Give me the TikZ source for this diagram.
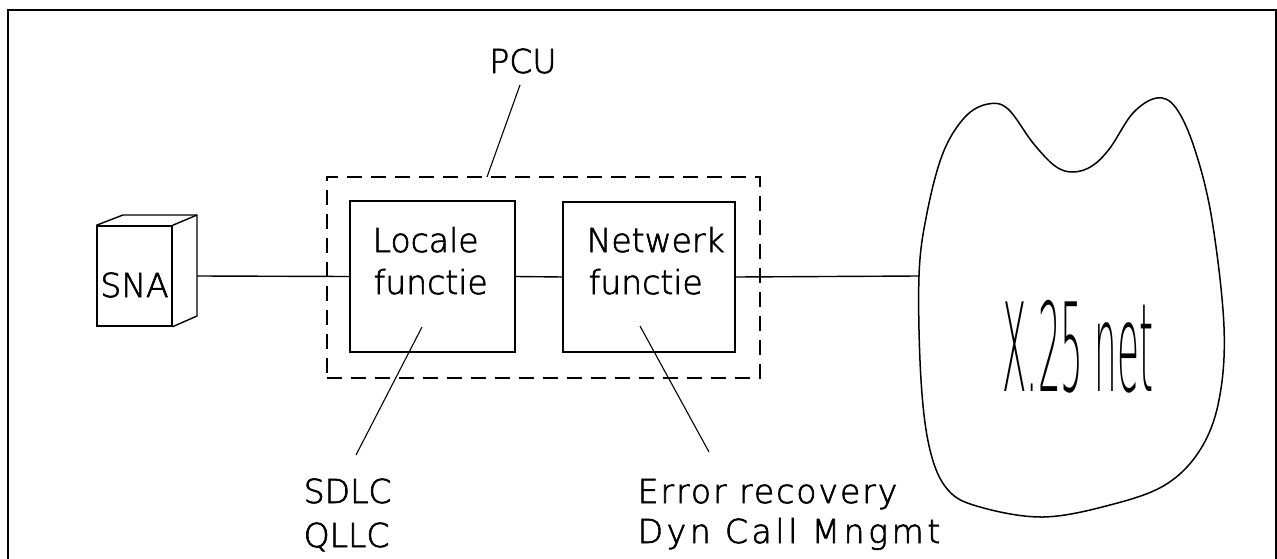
\documentclass[tikz,border=0pt]{standalone}
\usepackage{fontspec}
\newfontfamily\labfont{DejaVuSans-ExtraLight.ttf}[FakeBold=2]
\newfontfamily\spfont{DejaVuSans-ExtraLight.ttf}[FakeBold=2,LetterSpace=6]
\newfontfamily\wspfont{DejaVuSans-ExtraLight.ttf}[FakeBold=2,LetterSpace=11]
\newfontfamily\netfont{DejaVuSans-ExtraLight.ttf}
\begin{document}
\begin{tikzpicture}[x=1pt,y=-1pt,line width=1.4pt,
  boxst/.style={draw,line width=1.4pt,inner sep=0pt},
  lbl/.style={font=\labfont\fontsize{33}{40}\selectfont,inner sep=0pt,anchor=base west},
  splbl/.style={font=\spfont\fontsize{33}{40}\selectfont,inner sep=0pt,anchor=base west},
  wsplbl/.style={font=\wspfont\fontsize{33}{40}\selectfont,inner sep=0pt,anchor=base west},
  leader/.style={line width=1.1pt}]
\useasboundingbox (0,0) rectangle (1277,559);
% frame
\draw[line width=2.2pt] (8,559) -- (8,10) -- (1276,10) -- (1276,559);
% SNA box
\node[boxst,minimum width=75pt,minimum height=100pt] (sna) at (134.5,276) {};
\draw[line width=1.4pt,line join=round] (sna.north west) -- (123,215) -- (197,215) -- (197,316) -- (sna.south east);
\draw[line width=1.4pt] (sna.north east) -- (197,215);
\coordinate (snaR) at (197,276);
\node[lbl,anchor=base] (snatxt) at (134.5,297) {SNA};
% PCU
\node[draw,line width=1.4pt,dash pattern=on 15pt off 9pt,minimum width=433pt,minimum height=201pt,inner sep=0pt] (pcu) at (543.5,277.5) {};
\node[boxst,minimum width=165pt,minimum height=151pt] (loc) at (432.5,276.5) {};
\node[boxst,minimum width=172pt,minimum height=150pt] (net) at (649,277) {};
\node[lbl,anchor=base] (pcutxt) at (523,73) {PCU};
\node[lbl] (loc1) at (372,252) {Locale};
\node[lbl] (loc2) at (373,294) {functie};
\node[lbl] (net1) at (586,252) {Netwerk};
\node[lbl] (net2) at (588,294) {functie};
% cloud
\draw[line width=1.5pt] plot[smooth cycle,tension=0.6] coordinates {
 (919,276) (927,213) (943,153) (965,117) (988,104) (1008,109) (1033,143) (1055,166) (1073,172)
 (1092,166) (1110,148) (1133,113) (1157,98) (1176,108) (1195,150) (1212,220) (1224,327)
 (1219,400) (1200,450) (1165,485) (1110,505) (1043,517) (980,507) (948,490) (930,450) (921,380)};
\coordinate (cloudW) at (919,276);
\node[inner sep=0pt,font=\netfont\fontsize{123}{123}\selectfont,xscale=0.29] (x25) at (1078,347) {X.25 net};
% connectors
\draw (snaR) -- (loc.west);
\draw (loc.east) -- (net.west);
\draw (net.east) -- (cloudW);
% leaders
\coordinate (pcuA) at (520,85);
\coordinate (pcuB) at (487,177);
\draw[leader] (pcuA) -- (pcuB);
\coordinate (locA) at (422,327);
\coordinate (locB) at (356,455);
\draw[leader] (locA) -- (locB);
\coordinate (netA) at (640,326);
\coordinate (netB) at (709,452);
\draw[leader] (netA) -- (netB);
% bottom labels
\node[lbl] (sdlc) at (303,503) {SDLC};
\node[lbl] (qllc) at (303,547) {QLLC};
\node[splbl] (err) at (637,503) {Error recovery};
\node[wsplbl] (dyn) at (637,543) {Dyn Call Mngmt};
\end{tikzpicture}
\end{document}
